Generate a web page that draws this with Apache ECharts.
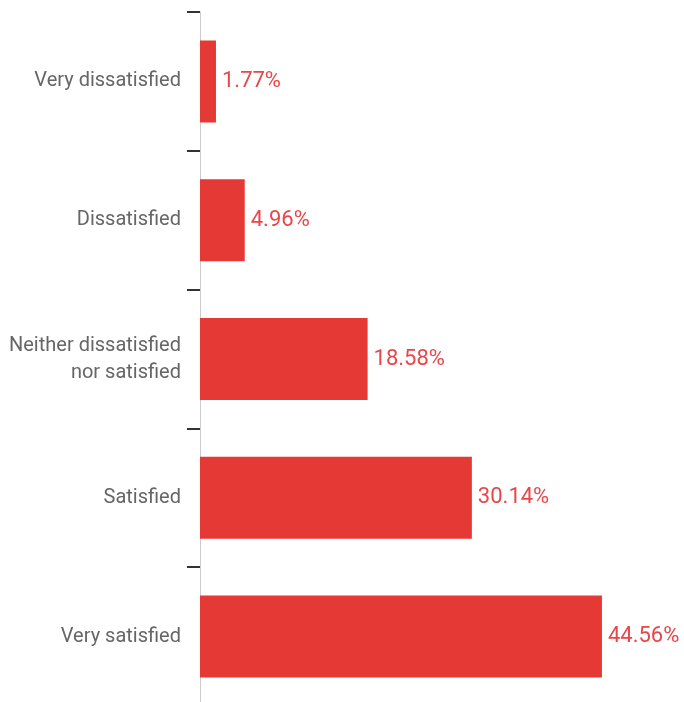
<!DOCTYPE html>
<html><head><meta charset="utf-8">
<script src="https://cdn.jsdelivr.net/npm/echarts@6/dist/echarts.min.js"></script>
<style>html,body{margin:0;padding:0;background:#fff}#c{width:684px;height:702px}</style>
</head><body><div id="c"></div>
<script>
const categories = ['Very dissatisfied', 'Dissatisfied', 'Neither dissatisfied\nnor satisfied', 'Satisfied', 'Very satisfied'];
const values = [1.77, 4.96, 18.58, 30.14, 44.56];

const chart = echarts.init(document.getElementById('c'), null, {renderer: 'canvas'});
chart.setOption({
  animation: false,
  grid: {left: 200, width: 451, top: 12, height: 694, containLabel: false, outerBoundsMode: 'none'},
  xAxis: {type: 'value', min: 0, max: 50, show: false},
  yAxis: {
    type: 'category', data: categories, inverse: true,
    axisLine: {show: true, lineStyle: {color: '#cccccc', width: 1}},
    axisTick: {show: true, length: 13, lineStyle: {color: '#333333', width: 2}},
    axisLabel: {color: '#666666', fontFamily: 'Roboto', fontSize: 20, margin: 19, lineHeight: 27, align: 'right'},
    splitLine: {show: false}
  },
  series: [{
    type: 'bar', data: values, barWidth: 82,
    itemStyle: {color: '#e53935'},
    label: {show: true, position: 'right', distance: 6, color: '#e8474a', fontFamily: 'Roboto', fontSize: 22,
      formatter: p => p.value.toFixed(2) + '%'}
  }]
});
</script></body></html>
